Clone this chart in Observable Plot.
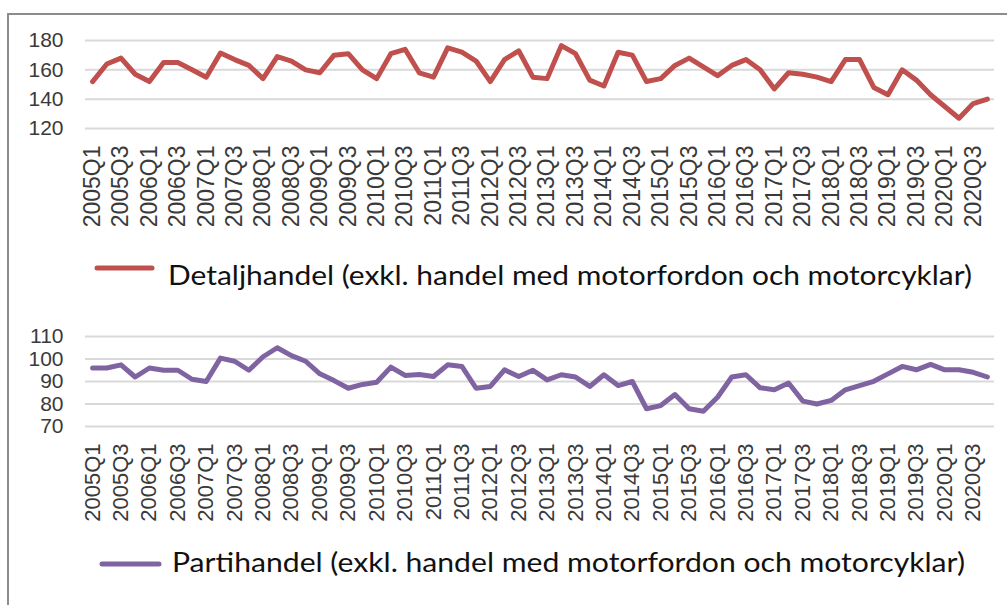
<!DOCTYPE html>
<html>
<head>
<meta charset="utf-8">
<script src="https://cdn.jsdelivr.net/npm/d3@7"></script>
<script src="https://cdn.jsdelivr.net/npm/@observablehq/plot@0.6"></script>
<style>
  html, body { margin: 0; padding: 0; background: #fff; }
  #wrap { position: relative; width: 1007px; height: 605px; overflow: hidden; background: #fff; }
  #frame { position: absolute; left: 7px; top: 13px; width: 1100px; height: 700px;
           border-left: 2px solid #8c8c8c; border-top: 2px solid #8c8c8c; box-sizing: border-box; }
  .panel { position: absolute; left: 0; }
  .legend { position: absolute; left: 0; }
</style>
</head>
<body>
<div id="wrap">
  <div id="frame"></div>
  <div id="p1" class="panel" style="top:0px"></div>
  <div id="p2" class="panel" style="top:300px"></div>
  <svg class="legend" style="top:0px" width="1007" height="605" id="leg"></svg>
</div>
<script>
// Categories: quarters 2005Q1 .. 2020Q4
const years = d3.range(2005, 2021);
const quarters = years.flatMap(y => [1, 2, 3, 4].map(q => `${y}Q${q}`));
const tickLabels = quarters.filter((d, i) => i % 2 === 0);

// Series values
const detaljhandel = [152,164,168,157,152,165,165,160,155,171.5,
  167,163,154,169,166,160,158,170,171,160,
  154,171,174,158,155,175,172,166,152,167,
  173,155,154,176.5,171,153,149,172,170,152,
  154,163,168,162,156,163,167,160,147,158,
  157,155,152,167,167,148,143,160,153,143,
  135,127,137,140];
const partihandel = [96,96,97.4,92,96,95,95,91,90,100.4,
  99,95,101,105,101.5,99,93.4,90.4,87,88.7,
  89.7,96.4,92.7,93.1,92.2,97.4,96.7,87,87.8,95.2,
  92.2,95,90.7,93,92,87.8,93,88.2,90,77.9,
  79.3,84.2,77.9,76.8,83,92,93,87.2,86.3,89.3,
  81.3,80,81.6,86.3,88.2,90.1,93.4,96.7,95.2,97.6,
  95.2,95.2,94.1,92];

const yTicks1 = [120, 140, 160, 180];
const yTicks2 = [70, 80, 90, 100, 110];
const legendLabels = [
  "Detaljhandel (exkl. handel med motorfordon och motorcyklar)",
  "Partihandel (exkl. handel med motorfordon och motorcyklar)"
];
const colors = ["#c0504d", "#8064a2"];

const data1 = quarters.map((q, i) => ({q, v: detaljhandel[i]}));
const data2 = quarters.map((q, i) => ({q, v: partihandel[i]}));

function panel(data, yDomain, yTicks, color, mt, mb, xFont, xPad) {
  return Plot.plot({
    width: 1007,
    height: 240,
    marginLeft: 85,
    marginRight: 13,
    marginTop: mt,
    marginBottom: mb,
    style: {fontFamily: "'Liberation Sans', Arial, sans-serif", color: "#3a3a3a", background: "transparent"},
    x: {type: "point", domain: quarters, padding: 0.5, round: false},
    y: {domain: yDomain},
    marks: [
      Plot.ruleY(yTicks, {stroke: "#d9d9d9", strokeWidth: 2}),
      Plot.axisY({ticks: yTicks, tickSize: 0, tickPadding: 22, fontSize: 21, label: null}),
      Plot.axisX({ticks: tickLabels, tickSize: 0, tickRotate: -90, tickPadding: xPad, fontSize: xFont, label: null}),
      Plot.line(data, {x: "q", y: "v", stroke: color, strokeWidth: 5, strokeLinejoin: "round", strokeLinecap: "round"})
    ]
  });
}

document.getElementById("p1").appendChild(panel(data1, [120, 180], yTicks1, colors[0], 40, 112, 23, 17));
document.getElementById("p2").appendChild(panel(data2, [70, 110], yTicks2, colors[1], 36, 114, 22, 17));

// Legends
const leg = d3.select("#leg");
const legendPos = [
  {x1: 97, x2: 152, y: 268, tx: 168, ty: 285, len: 804},
  {x1: 102, x2: 159, y: 564, tx: 172, ty: 572, len: 793}
];
legendPos.forEach((p, i) => {
  leg.append("line").attr("x1", p.x1).attr("x2", p.x2).attr("y1", p.y).attr("y2", p.y)
    .attr("stroke", colors[i]).attr("stroke-width", 5).attr("stroke-linecap", "round");
  leg.append("text").attr("x", p.tx).attr("y", p.ty)
    .attr("font-family", "Lato, 'Open Sans', sans-serif").attr("font-size", 27)
    .attr("fill", "#111").attr("textLength", p.len).attr("lengthAdjust", "spacingAndGlyphs")
    .text(legendLabels[i]);
});
</script>
</body>
</html>
